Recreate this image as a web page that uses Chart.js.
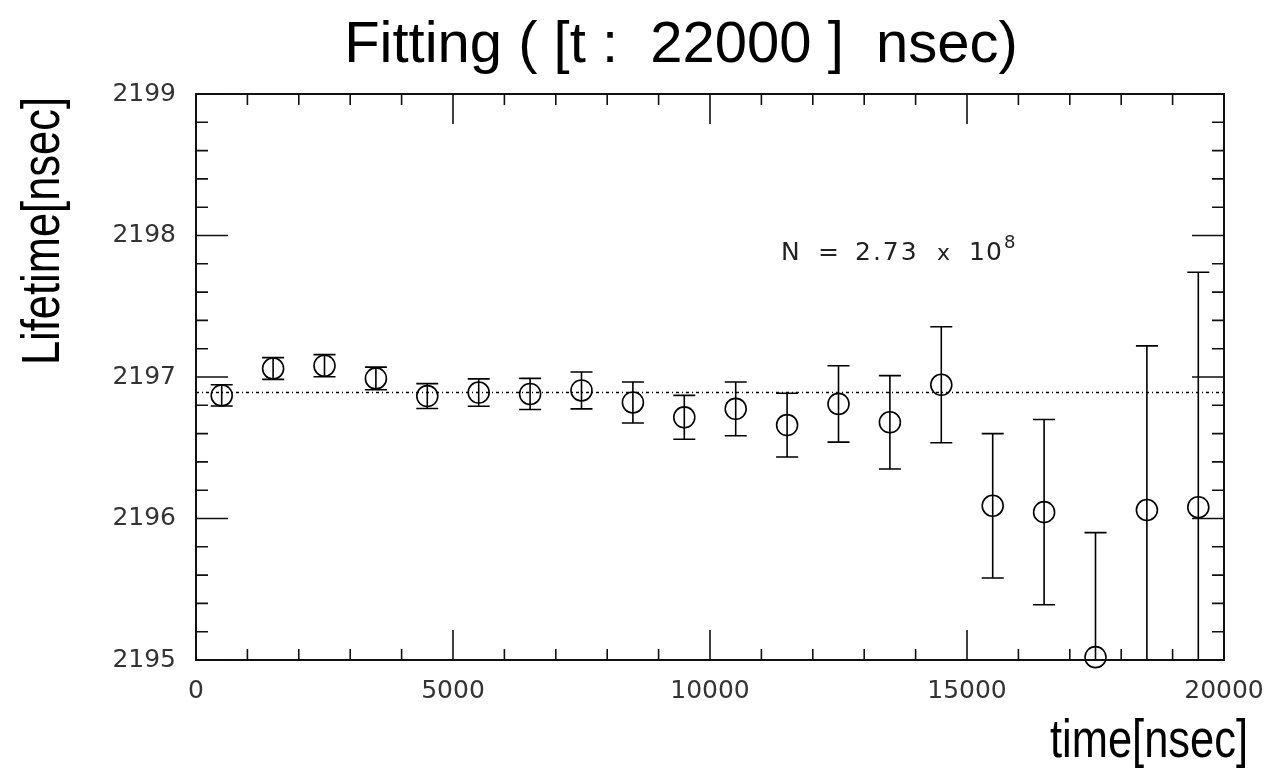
<!DOCTYPE html>
<html>
<head>
<meta charset="utf-8">
<script src="https://cdn.jsdelivr.net/npm/chart.js@4"></script>
<style>
  html, body { margin: 0; padding: 0; background: #fff; }
  #wrap { width: 1274px; height: 774px; }
</style>
</head>
<body>
<div id="wrap"><canvas id="fitChart" width="1274" height="774"></canvas></div>
<script>
// time bins (bin centres, nsec)
const times = [500, 1500, 2500, 3500, 4500, 5500, 6500, 7500, 8500, 9500,
               10500, 11500, 12500, 13500, 14500, 15500, 16500, 17500, 18500, 19500];
// fitted lifetime per bin
const lifetimes = [2196.87, 2197.06, 2197.08, 2196.99, 2196.865, 2196.89, 2196.88, 2196.905, 2196.82, 2196.715,
                   2196.775, 2196.66, 2196.81, 2196.68, 2196.945, 2196.09, 2196.045, 2195.02, 2196.06, 2196.08];
// error on each lifetime
const errors = [0.075, 0.077, 0.078, 0.08, 0.088, 0.097, 0.11, 0.13, 0.145, 0.155,
                0.19, 0.225, 0.27, 0.33, 0.41, 0.51, 0.655, 0.88, 1.16, 1.66];
// overall fit (dotted line)
const fitValue = 2196.89;
const xRange = [0, 20000];
const yRange = [2195, 2199];

const titleText = 'Fitting ( [t :  22000 ]  nsec)';
const xTitle = 'time[nsec]';
const yTitle = 'Lifetime[nsec]';

// Function to draw error bars, frame, inward ticks and labels
const decorations = {
    id: 'decorations',
    afterDatasetsDraw(chart) {
        const ctx = chart.ctx;
        const area = chart.chartArea;
        const xs = chart.scales.x;
        const ys = chart.scales.y;

        // error bars
        ctx.save();
        ctx.beginPath();
        ctx.rect(area.left, area.top, area.right - area.left, area.bottom - area.top);
        ctx.clip();
        ctx.strokeStyle = '#000';
        ctx.lineWidth = 1.6;
        times.forEach((t, i) => {
            const px = xs.getPixelForValue(t);
            const top = ys.getPixelForValue(lifetimes[i] + errors[i]);
            const bot = ys.getPixelForValue(lifetimes[i] - errors[i]);
            ctx.beginPath();
            ctx.moveTo(px, top);
            ctx.lineTo(px, bot);
            ctx.moveTo(px - 11, top);
            ctx.lineTo(px + 11, top);
            ctx.moveTo(px - 11, bot);
            ctx.lineTo(px + 11, bot);
            ctx.stroke();
        });
        ctx.restore();

        // frame
        ctx.save();
        ctx.strokeStyle = '#111';
        ctx.lineWidth = 2;
        ctx.strokeRect(area.left, area.top, area.right - area.left, area.bottom - area.top);

        // inward ticks, x (bottom and top)
        ctx.lineWidth = 1.6;
        ctx.beginPath();
        for (let i = 0; i <= 20; i++) {
            const v = xRange[0] + i * 1000;
            const px = xs.getPixelForValue(v);
            const len = (i % 5 === 0) ? 30 : 11;
            ctx.moveTo(px, area.bottom);
            ctx.lineTo(px, area.bottom - len);
            ctx.moveTo(px, area.top);
            ctx.lineTo(px, area.top + len);
        }
        // inward ticks, y (left and right)
        for (let i = 0; i <= 20; i++) {
            const v = yRange[0] + i * 0.2;
            const py = ys.getPixelForValue(v);
            const len = (i % 5 === 0) ? 32 : 12;
            ctx.moveTo(area.left, py);
            ctx.lineTo(area.left + len, py);
            ctx.moveTo(area.right, py);
            ctx.lineTo(area.right - len, py);
        }
        ctx.stroke();
        ctx.restore();

        // texts
        ctx.save();
        ctx.fillStyle = '#000';
        ctx.textAlign = 'center';
        ctx.textBaseline = 'alphabetic';
        ctx.font = '58px "Liberation Sans", Arial, sans-serif';
        ctx.fillText(titleText, 681, 62);
        ctx.restore();

        // axis titles, squeezed sideways like the original narrow font
        ctx.save();
        ctx.fillStyle = '#000';
        ctx.textAlign = 'center';
        ctx.font = '53px "Liberation Sans", Arial, sans-serif';
        ctx.translate(1149, 757);
        ctx.scale(0.82, 1);
        ctx.fillText(xTitle, 0, 0);
        ctx.restore();

        ctx.save();
        ctx.fillStyle = '#000';
        ctx.textAlign = 'center';
        ctx.font = '53px "Liberation Sans", Arial, sans-serif';
        ctx.translate(59, 231);
        ctx.rotate(-Math.PI / 2);
        ctx.scale(0.82, 1);
        ctx.fillText(yTitle, 0, 0);
        ctx.restore();

        // annotation N = 2.73 x 10^8
        ctx.save();
        ctx.fillStyle = '#222';
        ctx.textAlign = 'left';
        ctx.textBaseline = 'alphabetic';
        ctx.font = '25px "DejaVu Sans", sans-serif';
        ctx.fillText('N', 781, 260);
        ctx.fillText('=', 818, 260);
        ctx.letterSpacing = '2px';
        ctx.fillText('2.73', 855, 260);
        ctx.letterSpacing = '0px';
        ctx.font = '22px "DejaVu Sans", sans-serif';
        ctx.fillText('x', 937, 260);
        ctx.font = '25px "DejaVu Sans", sans-serif';
        ctx.letterSpacing = '1px';
        ctx.fillText('10', 969, 260);
        ctx.letterSpacing = '0px';
        ctx.font = '18px "DejaVu Sans", sans-serif';
        ctx.fillText('8', 1004, 248);
        ctx.restore();
    }
};

const ctx = document.getElementById('fitChart').getContext('2d');
new Chart(ctx, {
    type: 'scatter',
    data: {
        datasets: [
            {
                label: 'Lifetime',
                data: times.map((t, i) => ({ x: t, y: lifetimes[i] })),
                pointStyle: 'circle',
                pointRadius: 10.5,
                pointBorderWidth: 1.6,
                borderColor: '#000',
                backgroundColor: 'rgba(0,0,0,0)',
                clip: false
            },
            {
                type: 'line',
                label: 'Fit',
                data: [{ x: xRange[0], y: fitValue }, { x: xRange[1], y: fitValue }],
                borderColor: '#000',
                borderWidth: 1.5,
                borderDash: [3, 3, 1, 3],
                pointRadius: 0,
                fill: false
            }
        ]
    },
    plugins: [decorations],
    options: {
        responsive: false,
        animation: false,
        events: [],
        layout: {
            padding: { left: 0, top: 94, right: 50, bottom: 0 }
        },
        plugins: {
            legend: { display: false },
            tooltip: { enabled: false },
            title: { display: false }
        },
        scales: {
            x: {
                type: 'linear',
                min: xRange[0],
                max: xRange[1],
                grid: { display: false },
                border: { display: false },
                ticks: {
                    stepSize: 5000,
                    padding: 8,
                    maxRotation: 0,
                    color: '#333',
                    font: { family: '"DejaVu Sans", sans-serif', size: 25 },
                    callback: value => String(value)
                },
                afterFit: scale => { scale.height = 114; }
            },
            y: {
                type: 'linear',
                min: yRange[0],
                max: yRange[1],
                grid: { display: false },
                border: { display: false },
                ticks: {
                    stepSize: 1,
                    padding: 12,
                    color: '#333',
                    font: { family: '"DejaVu Sans", sans-serif', size: 25 },
                    callback: value => String(value)
                },
                afterFit: scale => { scale.width = 196; }
            }
        }
    }
});
</script>
</body>
</html>
